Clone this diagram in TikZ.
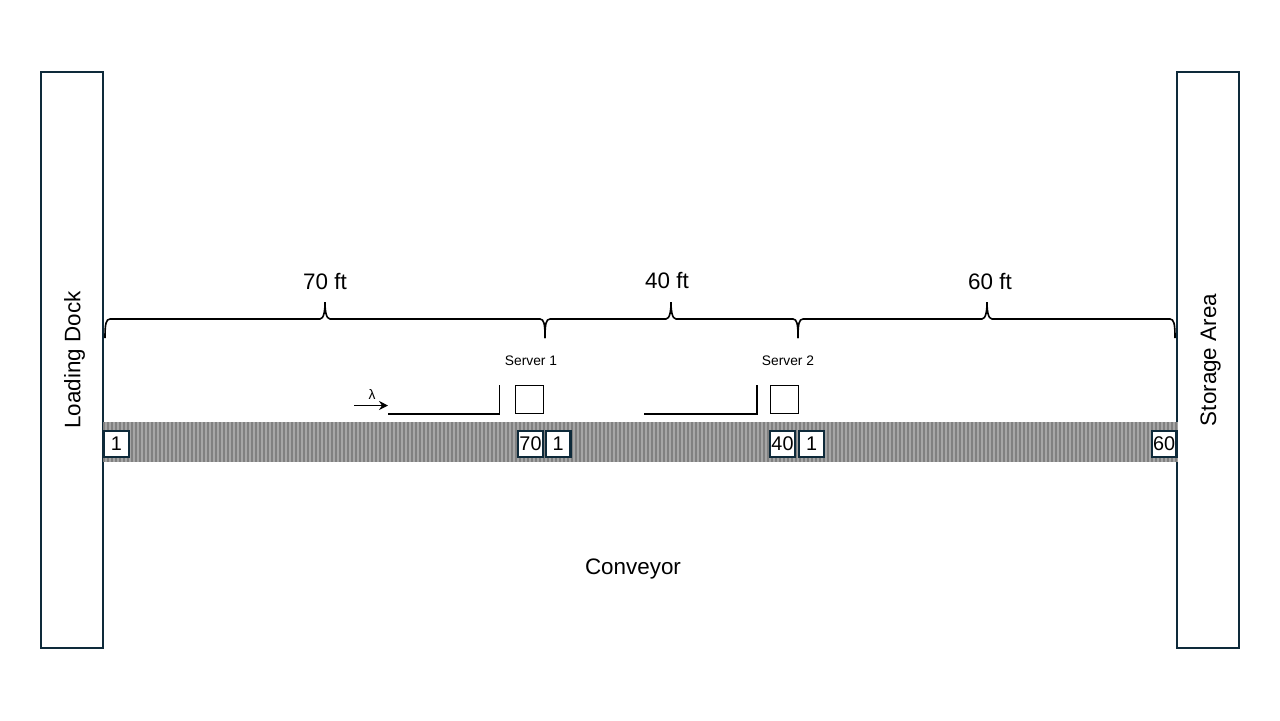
\documentclass[tikz,border=0pt]{standalone}
\usepackage{fontspec}
\setmainfont{Liberation Sans}
\usetikzlibrary{calc,arrows.meta}
\definecolor{mynavy}{HTML}{0E2A3A}
\colorlet{mystripe}{black!50}
\colorlet{mybelt}{black!35}
\tikzset{
    x=0.5pt, y=-0.5pt,
    every path/.style={line width=0.75pt},
    area/.style={draw=mynavy, line width=1.1pt, fill=white, minimum width=31pt, minimum height=288pt, inner sep=0pt},
    areatext/.style={rotate=90, font=\fontsize{11.2}{13}\selectfont},
    item/.style={draw=mynavy, line width=1.2pt, fill=white, inner sep=0pt, minimum width=12.3pt, minimum height=12.9pt, font=\fontsize{9.9}{11}\selectfont},
    server/.style={draw, line width=0.65pt, inner sep=0pt, minimum size=14pt},
    servertext/.style={font=\fontsize{6.9}{8}\selectfont},
    dist/.style={font=\fontsize{11.2}{13}\selectfont},
    queue/.style={line width=0.65pt},
    span/.style={line width=0.8pt}
}
\newcommand{\spanbrace}[3]{
\draw [span] (#1) .. controls +(0,-14) and +(-4,0) .. ($(#1)+(5,-19)$)
    -- ($(#3)+(-5,17)$) .. controls +(4,0) and +(0,8) .. (#3)
    .. controls +(0,8) and +(-4,0) .. ($(#3)+(5,17)$)
    -- ($(#2)+(-5,-19)$) .. controls +(4,0) and +(0,-14) .. (#2);
}
\begin{document}
\begin{tikzpicture}
\useasboundingbox (0,0) rectangle (1280,720);

% end areas
\node[area] at (72,360) (dock) {};
\node[area] at (1208,360) (storage) {};
\node[areatext] at (74.5,360) (docktext) {Loading Dock};
\node[areatext] at (1210.5,360) (storagetext) {Storage Area};

% belt
\fill[mybelt] (103,422) rectangle (1178,462);
\foreach \i in {0,...,268}
    \fill[mystripe] ({103+4*\i},422) rectangle ({105+4*\i},462);

% parts
\node[item] at (116.5,444) (a1) {1};
\node[item] at (530.5,444) (a70) {70};
\node[item] at (558,444) (b1) {1};
\node[item] at (782.5,444) (b40) {40};
\node[item] at (811.5,444) (c1) {1};
\node[item] at (1164,444) (c60) {60};

% servers and queues
\node[server] at (529.7,399.7) (s1) {};
\node[server] at (784.2,399.7) (s2) {};
\node[servertext] at (531,361) (s1text) {Server 1};
\node[servertext] at (788,361) (s2text) {Server 2};
\coordinate (q1a) at (388,414);
\coordinate (q1b) at (499.5,414);
\coordinate (q1c) at (499.5,385);
\coordinate (q2a) at (644,414);
\coordinate (q2b) at (757,414);
\coordinate (q2c) at (757,385);
\draw [queue] (q1a) -- (q1b) -- (q1c);
\draw [queue] (q2a) -- (q2b) -- (q2c);
\coordinate (in0) at (354,405.5);
\coordinate (in1) at (388,405.5);
\draw [queue, -{Stealth[length=4.5pt,width=4.5pt]}] (in0) -- (in1);
\node[servertext] at (372,394.5) (rate) {λ};

% distances
\coordinate (e0) at (105,338);
\coordinate (e1) at (545,338);
\coordinate (e2) at (798,338);
\coordinate (e3) at (1175,338);
\coordinate (t1) at (325,302);
\coordinate (t2) at (671,302);
\coordinate (t3) at (987,302);
\spanbrace{e0}{e1}{t1}
\spanbrace{e1}{e2}{t2}
\spanbrace{e2}{e3}{t3}
\node[dist] at (325,281) (d1) {70 ft};
\node[dist] at (667,280) (d2) {40 ft};
\node[dist] at (990,281) (d3) {60 ft};

\node[dist] at (633,569) (belttext) {Conveyor};
\end{tikzpicture}
\end{document}
